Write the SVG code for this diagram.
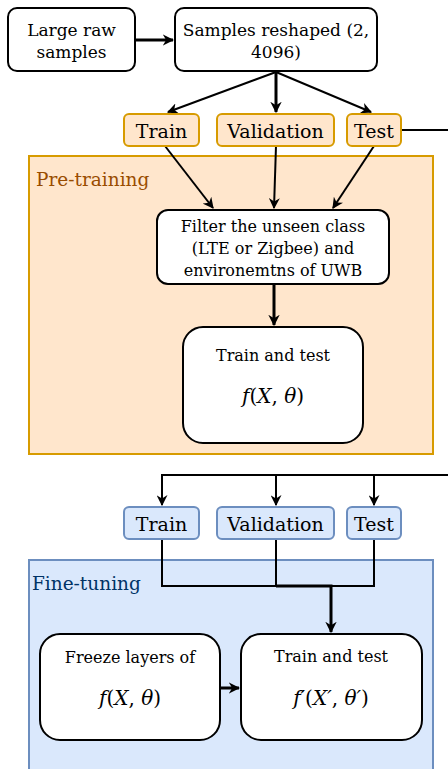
<svg xmlns="http://www.w3.org/2000/svg" width="448" height="769" viewBox="0 0 448 769">
  <style>
    .t { font-family: "DejaVu Serif", "Liberation Serif", serif; font-size: 16px; fill: #000; text-anchor: middle; }
    .tb { font-family: "DejaVu Serif", "Liberation Serif", serif; font-size: 17px; fill: #000; text-anchor: middle; }
    .s { font-family: "DejaVu Serif", "Liberation Serif", serif; font-size: 19px; fill: #000; text-anchor: middle; }
    .m { font-family: "DejaVu Serif", "Liberation Serif", serif; font-size: 20px; fill: #000; text-anchor: middle; }
    .i { font-style: italic; }
    .node { fill: #fff; stroke: #000; stroke-width: 2; }
    .split-o { fill: #ffe6cc; stroke: #d79b00; stroke-width: 2; }
    .split-b { fill: #dae8fc; stroke: #6c8ebf; stroke-width: 2; }
    .edge { fill: none; stroke: #000; stroke-width: 2; }
    .edge3 { fill: none; stroke: #000; stroke-width: 3; }
    .lbl { font-family: "DejaVu Serif", "Liberation Serif", serif; font-size: 18.5px; }
  </style>
  <defs>
    <marker id="arr" viewBox="0 0 10 10" refX="9" refY="5" markerWidth="5.5" markerHeight="5.5" orient="auto" markerUnits="strokeWidth">
      <path d="M0,0 L10,5 L0,10 L3,5 Z" fill="#000"/>
    </marker>
    <marker id="arr3" viewBox="0 0 10 10" refX="9" refY="5" markerWidth="3.8" markerHeight="3.8" orient="auto" markerUnits="strokeWidth">
      <path d="M0,0 L10,5 L0,10 L3,5 Z" fill="#000"/>
    </marker>
  </defs>

  <!-- containers -->
  <g id="pretraining">
    <rect x="29" y="156" width="404" height="298" fill="#ffe6cc" stroke="#d79b00" stroke-width="2"/>
    <text x="36" y="186" class="lbl" fill="#994c00">Pre-training</text>
  </g>
  <g id="finetuning">
    <rect x="29" y="560" width="404" height="220" fill="#dae8fc" stroke="#6c8ebf" stroke-width="2"/>
    <text x="32" y="590" class="lbl" fill="#003366">Fine-tuning</text>
  </g>

  <!-- connectors -->
  <g id="connectors">
    <line x1="135" y1="40" x2="173" y2="40" class="edge3" marker-end="url(#arr3)"/>
    <line x1="276" y1="72" x2="168" y2="112" class="edge" marker-end="url(#arr)"/>
    <line x1="276" y1="72" x2="276" y2="112" class="edge3" marker-end="url(#arr3)"/>
    <line x1="276" y1="72" x2="371" y2="112" class="edge" marker-end="url(#arr)"/>
    <line x1="401" y1="130" x2="448" y2="130" class="edge"/>

    <line x1="165" y1="146" x2="213" y2="208" class="edge" marker-end="url(#arr)"/>
    <line x1="276" y1="146" x2="274" y2="208" class="edge" marker-end="url(#arr)"/>
    <line x1="374" y1="146" x2="333" y2="208" class="edge" marker-end="url(#arr)"/>
    <line x1="274" y1="284" x2="274" y2="325" class="edge3" marker-end="url(#arr3)"/>

    <polyline points="448,475 162,475 162,505" class="edge" marker-end="url(#arr)"/>
    <line x1="276" y1="475" x2="276" y2="505" class="edge" marker-end="url(#arr)"/>
    <line x1="374" y1="475" x2="374" y2="505" class="edge" marker-end="url(#arr)"/>

    <polyline points="162,539 162,586 374,586 374,539" class="edge"/>
    <line x1="276" y1="539" x2="276" y2="586" class="edge"/>
    <polyline points="276,586 331,586 331,632" class="edge3" marker-end="url(#arr3)"/>
    <line x1="220" y1="688" x2="239" y2="688" class="edge3" marker-end="url(#arr3)"/>
  </g>

  <!-- nodes -->
  <g id="raw">
    <rect x="8" y="8" width="127" height="63" rx="9" class="node"/>
    <text x="71.5" y="36" class="tb">Large raw</text>
    <text x="71.5" y="58" class="tb">samples</text>
  </g>
  <g id="reshaped">
    <rect x="175" y="8" width="202" height="63" rx="9" class="node"/>
    <text x="276" y="36" class="tb">Samples reshaped (2,</text>
    <text x="276" y="58" class="tb">4096)</text>
  </g>

  <g id="train1">
    <rect x="124" y="114" width="75" height="32" rx="5" class="split-o"/>
    <text x="161.5" y="138" class="s">Train</text>
  </g>
  <g id="val1">
    <rect x="217" y="114" width="117" height="32" rx="5" class="split-o"/>
    <text x="275.5" y="138" class="s">Validation</text>
  </g>
  <g id="test1">
    <rect x="347" y="114" width="54" height="32" rx="5" class="split-o"/>
    <text x="374" y="138" class="s">Test</text>
  </g>

  <g id="filter">
    <rect x="157" y="210" width="232" height="74" rx="11" class="node"/>
    <text x="273" y="232" class="t">Filter the unseen class</text>
    <text x="273" y="254" class="t">(LTE or Zigbee) and</text>
    <text x="273" y="276" class="t">environemtns of UWB</text>
  </g>

  <g id="pretrain-model">
    <rect x="183" y="327" width="180" height="116" rx="20" class="node"/>
    <text x="273" y="361" class="t">Train and test</text>
    <text x="273" y="403" class="m"><tspan class="i">f</tspan>(<tspan class="i">X</tspan>, <tspan class="i">θ</tspan>)</text>
  </g>

  <g id="train2">
    <rect x="124" y="507" width="75" height="32" rx="5" class="split-b"/>
    <text x="161.5" y="531" class="s">Train</text>
  </g>
  <g id="val2">
    <rect x="217" y="507" width="117" height="32" rx="5" class="split-b"/>
    <text x="275.5" y="531" class="s">Validation</text>
  </g>
  <g id="test2">
    <rect x="347" y="507" width="54" height="32" rx="5" class="split-b"/>
    <text x="374" y="531" class="s">Test</text>
  </g>

  <g id="freeze">
    <rect x="40" y="634" width="180" height="106" rx="20" class="node"/>
    <text x="130" y="663" class="t">Freeze layers of</text>
    <text x="130" y="705" class="m"><tspan class="i">f</tspan>(<tspan class="i">X</tspan>, <tspan class="i">θ</tspan>)</text>
  </g>
  <g id="finetune-model">
    <rect x="241" y="634" width="181" height="106" rx="20" class="node"/>
    <text x="331" y="662" class="t">Train and test</text>
    <text x="331" y="705" class="m"><tspan class="i">f′</tspan>(<tspan class="i">X′</tspan>, <tspan class="i">θ′</tspan>)</text>
  </g>
</svg>
